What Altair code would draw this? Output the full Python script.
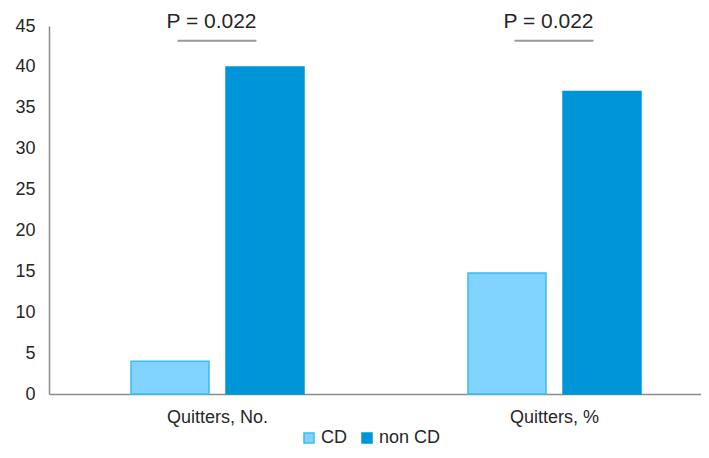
import altair as alt
import pandas as pd

categories = ["Quitters, No.", "Quitters, %"]
groups = ["CD", "non CD"]
cd_values = [4, 14.8]
noncd_values = [40, 37]
p_labels = ["P = 0.022", "P = 0.022"]
p_text_y = [45.5, 45.5]
p_line_y = [43.2, 43.2]

rows = []
for i, c in enumerate(categories):
    rows.append({"cat": c, "group": groups[0], "value": cd_values[i]})
    rows.append({"cat": c, "group": groups[1], "value": noncd_values[i]})
bars_df = pd.DataFrame(rows)
ann_df = pd.DataFrame({"cat": categories, "label": p_labels, "ty": p_text_y, "ly": p_line_y})

FONT = "Liberation Sans"
xscale = alt.Scale(domain=categories, range=[0, 674], paddingInner=0, paddingOuter=0)
yscale = alt.Scale(domain=[0, 45], nice=False)

bars = alt.Chart(bars_df).mark_bar(strokeWidth=1.5).encode(
    x=alt.X("cat:N", scale=xscale, sort=categories,
            axis=alt.Axis(title=None, labelAngle=0, ticks=False, labelPadding=14,
                          labelFontSize=18, labelColor="#262626", labelFont=FONT,
                          domainColor="#8c8c8c", domainWidth=1.5)),
    xOffset=alt.XOffset("group:N", sort=groups,
                        scale=alt.Scale(paddingInner=0.179, paddingOuter=0.863)),
    y=alt.Y("value:Q", scale=yscale,
            axis=alt.Axis(title=None, values=list(range(0, 50, 5)), ticks=False, grid=False,
                          labelPadding=14, labelFontSize=18, labelColor="#262626",
                          labelFont=FONT, domainColor="#8c8c8c", domainWidth=1.5)),
    color=alt.Color("group:N", sort=groups,
                    scale=alt.Scale(domain=groups, range=["#80D4FF", "#0095D9"]),
                    legend=alt.Legend(title=None, orient="none", direction="horizontal",
                                      legendX=251, legendY=403, symbolType="square",
                                      symbolSize=100, labelFontSize=18, labelFont=FONT,
                                      labelColor="#262626", labelOffset=3,
                                      columnPadding=11, symbolStrokeWidth=1.5)),
    stroke=alt.Stroke("group:N", sort=groups,
                      scale=alt.Scale(domain=groups, range=["#3DBBF0", "#0095D9"]),
                      legend=None),
)

rules = alt.Chart(ann_df).mark_rule(color="#9a9a9a", strokeWidth=2, xOffset=-40, x2Offset=39).encode(
    x=alt.X("cat:N", scale=xscale, sort=categories),
    x2=alt.X2("cat:N"),
    y=alt.Y("ly:Q", scale=yscale),
)

texts = alt.Chart(ann_df).mark_text(fontSize=21, font=FONT, color="#262626", dx=-6,
                                    baseline="middle", clip=False).encode(
    x=alt.X("cat:N", scale=xscale, sort=categories),
    y=alt.Y("ty:Q", scale=yscale),
    text="label:N",
)

chart = alt.layer(bars, rules, texts).properties(
    width=652, height=368,
    autosize=alt.AutoSizeParams(type="none"),
    padding={"left": 41, "top": 18, "right": 0, "bottom": 54},
).configure_view(stroke=None).configure_axis(grid=False)

chart.save("out.html", embed_options={"renderer": "svg", "actions": False})
